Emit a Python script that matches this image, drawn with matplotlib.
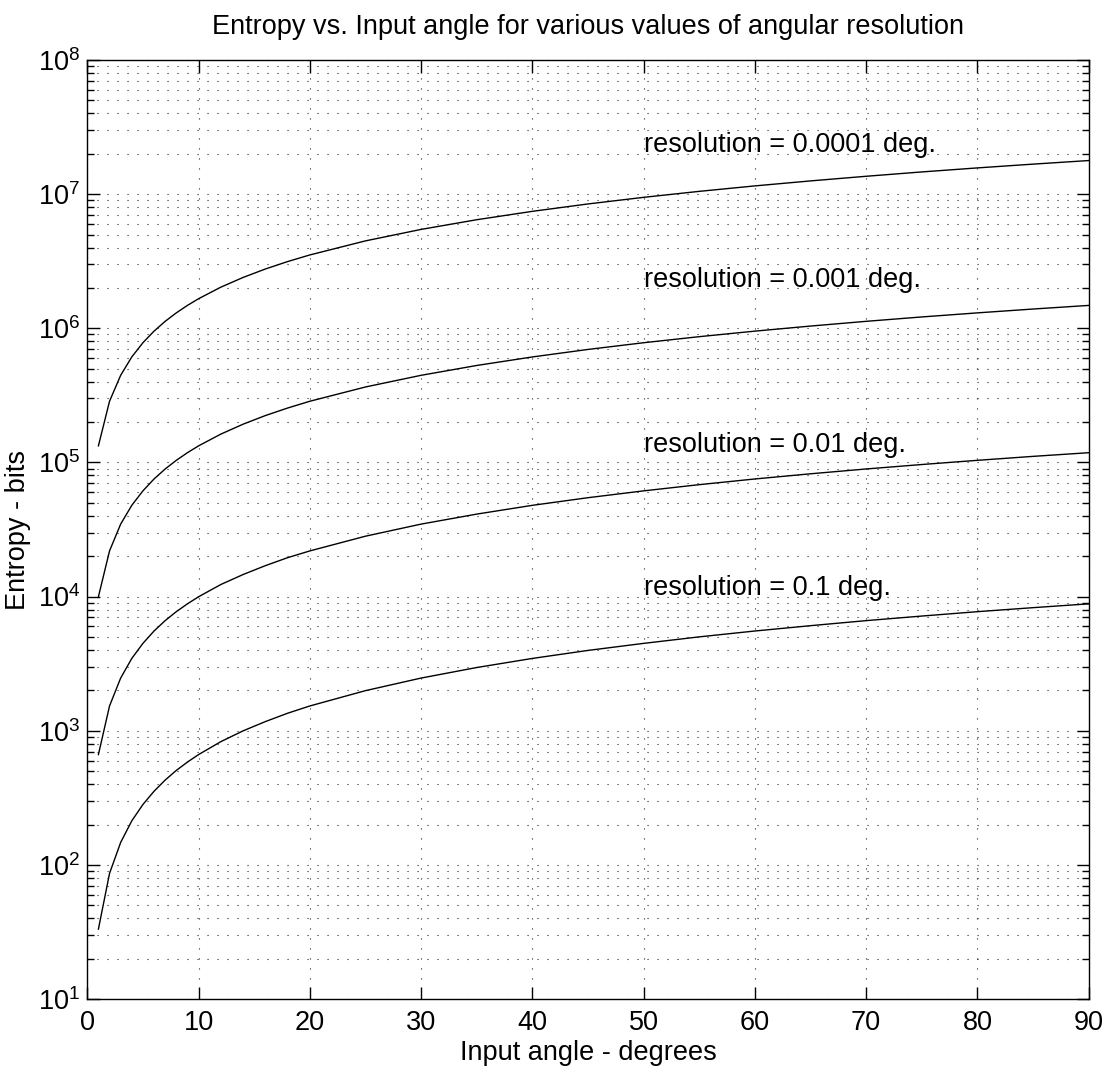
import numpy as np
import matplotlib.pyplot as plt
from matplotlib.ticker import LogLocator, NullFormatter, FixedLocator

plt.rcParams['font.family'] = ['Liberation Sans', 'DejaVu Sans']
plt.rcParams['mathtext.default'] = 'regular'

# Input angle (degrees)
angle = [1, 2, 3, 4, 5, 6, 7, 8, 9, 10, 12, 14, 16, 18, 20, 25, 30, 35, 40,
         45, 50, 55, 60, 65, 70, 75, 80, 85, 90]

# Entropy (bits)
ent_01 = [33.2, 86.4, 147, 213, 282, 354, 429, 506, 584, 664, 829, 998, 1170,
          1350, 1530, 1990, 2470, 2960, 3460, 3970, 4480, 5010, 5540, 6070,
          6620, 7160, 7720, 8270, 8830]
ent_001 = [664, 1530, 2470, 3460, 4480, 5540, 6620, 7720, 8830, 9970, 12300,
           14600, 17000, 19500, 21900, 28200, 34700, 41200, 47900, 54600,
           61400, 68300, 75300, 82300, 89400, 96500, 103700, 111000, 118200]
ent_0001 = [9970, 21900, 34700, 47900, 61400, 75300, 89400, 103700, 118200,
            132900, 162600, 192800, 223500, 254400, 285800, 365200, 446200,
            528300, 611500, 695600, 780500, 866100, 952400, 1039000, 1127000,
            1215000, 1303000, 1392000, 1481000]
ent_00001 = [132900, 285800, 446200, 611500, 780500, 952400, 1127000, 1303000,
             1481000, 1661000, 2025000, 2393000, 2766000, 3142000, 3522000,
             4483000, 5459000, 6446000, 7444000, 8451000, 9466000, 10490000,
             11520000, 12550000, 13590000, 14640000, 15690000, 16740000,
             17800000]

labels = ['resolution = 0.0001 deg.', 'resolution = 0.001 deg.',
          'resolution = 0.01 deg.', 'resolution = 0.1 deg.']
label_x = [50, 50, 50, 50]
label_y = [2.32e7, 2.29e6, 1.35e5, 1.16e4]

fig = plt.figure(figsize=(11.09, 10.79), dpi=100)
ax = fig.add_axes([0.0787, 0.0741, 0.9030, 0.8703])

for ys in [ent_01, ent_001, ent_0001, ent_00001]:
    ax.plot(angle, ys, color='black', linewidth=1.0)

ax.set_yscale('log')
ax.set_xlim(0, 90)
ax.set_ylim(1e1, 1e8)
ax.xaxis.set_major_locator(FixedLocator(np.arange(0, 91, 10)))
ax.yaxis.set_major_locator(FixedLocator([10.0 ** k for k in range(1, 9)]))
ax.yaxis.set_minor_locator(LogLocator(base=10, subs=np.arange(2, 10), numticks=20))
ax.yaxis.set_minor_formatter(NullFormatter())

grid_style = dict(color='0.15', linestyle=(0, (1, 8)), linewidth=0.8)
ax.grid(True, which='major', axis='both', **grid_style)
ax.grid(True, which='minor', axis='y', **grid_style)

ax.tick_params(which='both', direction='in', top=True, right=True,
               labelsize=19.5, width=1.0)
ax.tick_params(axis='x', which='major', length=9, pad=8)
ax.tick_params(axis='y', which='major', length=9, pad=5)
ax.tick_params(which='minor', length=5)
for s in ax.spines.values():
    s.set_linewidth(1.0)

for txt, lx, ly in zip(labels, label_x, label_y):
    ax.text(lx, ly, txt, fontsize=19.5, ha='left', va='center')

ax.set_title('Entropy vs. Input angle for various values of angular resolution',
             fontsize=19.5, pad=19)
ax.set_xlabel('Input angle - degrees', fontsize=19.5, labelpad=3)
ax.set_ylabel('Entropy - bits', fontsize=19.5, labelpad=5)

fig.savefig('out.png', dpi=100)
